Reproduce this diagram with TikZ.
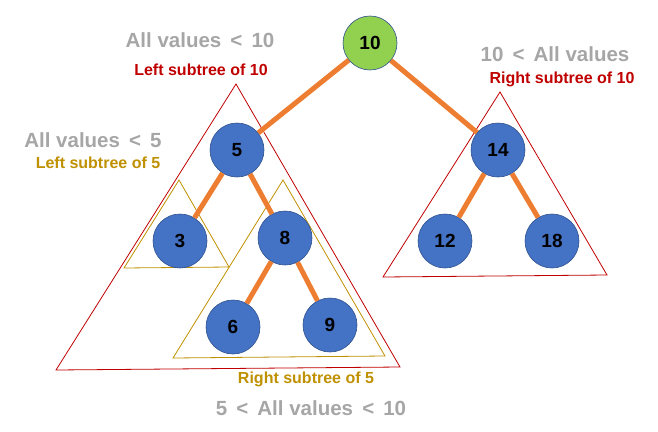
\documentclass[tikz,border=0pt]{standalone}
\usepackage{fontspec}
\setmainfont{Liberation Sans}
\usepackage{tikz}
\usetikzlibrary{positioning}
\definecolor{leaf}{HTML}{4472C4}
\definecolor{rootgreen}{HTML}{92D050}
\definecolor{rim}{HTML}{2F528F}
\definecolor{branch}{HTML}{ED7D31}
\definecolor{crimson}{HTML}{C00000}
\definecolor{ochre}{HTML}{BF9000}
\definecolor{ash}{HTML}{A6A6A6}

\begin{document}
\begin{tikzpicture}[x=1pt, y=-1pt,
    key/.style={circle, draw=rim, line width=0.6pt, fill=leaf, minimum size=54pt, inner sep=0pt, font=\fontsize{19}{19}\selectfont\bfseries},
    edge/.style={branch, line width=5pt},
    bound/.style={font=\fontsize{20.5}{20.5}\selectfont\bfseries, ash},
    tag/.style={font=\fontsize{16}{16}\selectfont\bfseries}]
    \useasboundingbox (0,0) rectangle (658,431);

    % Subtree outlines
    \draw[crimson, line width=0.8pt] (236,84) -- (56,370) -- (400,367) -- cycle;
    \draw[crimson, line width=0.8pt] (500,92) -- (383,277) -- (607,275) -- cycle;
    \draw[ochre, line width=0.8pt] (179,180) -- (124,268) -- (229,267) -- cycle;
    \draw[ochre, line width=0.8pt] (283,180) -- (173,358) -- (385,356) -- cycle;

    % Keys
    \node[key, fill=rootgreen] (n10) at (370,43) {10};
    \node[key] (n5) at (237,150) {5};
    \node[key] (n14) at (498,150) {14};
    \node[key] (n3) at (180,241) {3};
    \node[key] (n8) at (285,238) {8};
    \node[key] (n12) at (445,241) {12};
    \node[key] (n18) at (552,241) {18};
    \node[key] (n6) at (233,327) {6};
    \node[key] (n9) at (330,325) {9};

    % Links
    \foreach \a/\b in {n10/n5, n10/n14, n5/n3, n5/n8, n8/n6, n8/n9, n14/n12, n14/n18} {
        \draw[edge] (\a) -- (\b);
    }

    % Labels
    \node[bound] (b10) at (200,40) {All values \,<\, 10};
    \node[tag, crimson] (t10) at (201,70) {Left subtree of 10};
    \node[bound] (b5) at (93,140) {All values \,<\, 5};
    \node[tag, ochre] (t5) at (98,163) {Left subtree of 5};
    \node[bound] (b10r) at (555,54) {10 \,<\, All values};
    \node[tag, crimson] (t10r) at (562,79) {Right subtree of 10};
    \node[tag, ochre] (t5r) at (306,379) {Right subtree of 5};
    \node[bound] (b5r) at (311,408) {5 \,<\, All values \,<\, 10};

\end{tikzpicture}
\end{document}
